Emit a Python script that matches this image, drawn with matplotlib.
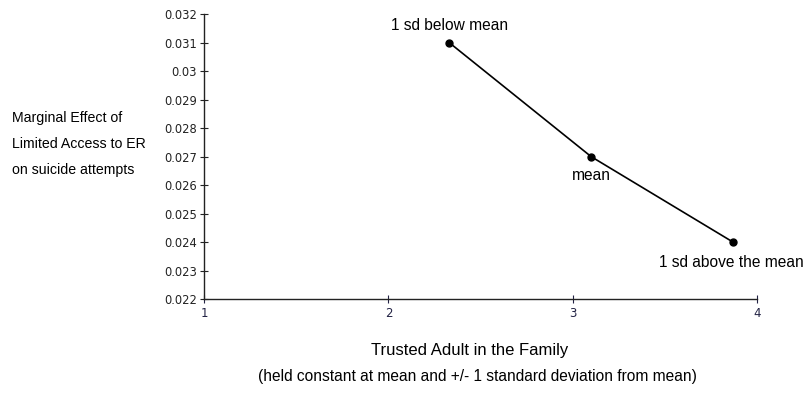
import numpy as np
import matplotlib.pyplot as plt

trusted_adult = [2.33, 3.10, 3.87]
marginal_effect = [0.031, 0.027, 0.024]
point_labels = ['1 sd below mean', 'mean', '1 sd above the mean']
xticks = [1, 2, 3, 4]
yticks = [0.022, 0.023, 0.024, 0.025, 0.026, 0.027, 0.028, 0.029, 0.03, 0.031, 0.032]
ytick_labels = ['0.022', '0.023', '0.024', '0.025', '0.026', '0.027',
                '0.028', '0.029', '0.03', '0.031', '0.032']


def main():
    fig = plt.figure(figsize=(8.07, 3.93), dpi=100)
    ax = fig.add_axes([0.253, 0.239, 0.685, 0.725])

    ax.plot(trusted_adult, marginal_effect, color='black', lw=1.2,
            marker='o', ms=5, zorder=3)

    lab = dict(family='Liberation Sans', fontsize=11.2)
    ax.annotate(point_labels[0], (trusted_adult[0], marginal_effect[0]),
                xytext=(0, 7), textcoords='offset points',
                ha='center', va='bottom', **lab)
    ax.annotate(point_labels[1], (trusted_adult[1], marginal_effect[1]),
                xytext=(0, -8), textcoords='offset points',
                ha='center', va='top', **lab)
    ax.annotate(point_labels[2], (trusted_adult[2], marginal_effect[2]),
                xytext=(-53, -9), textcoords='offset points',
                ha='left', va='top', annotation_clip=False, **lab)

    ax.set_xlim(1, 4)
    ax.set_ylim(0.022, 0.032)
    ax.set_xticks(xticks)
    ax.set_xticklabels([str(t) for t in xticks])
    ax.set_yticks(yticks)
    ax.set_yticklabels(ytick_labels)

    for s in ['top', 'right']:
        ax.spines[s].set_visible(False)
    for s in ['left', 'bottom']:
        ax.spines[s].set_linewidth(1.0)
        ax.spines[s].set_color('#222222')

    ax.tick_params(axis='y', direction='inout', length=6, width=0.8,
                   labelsize=8.3, pad=2, colors='#222222')
    ax.tick_params(axis='x', direction='inout', length=6, width=0.8,
                   labelsize=8.5, pad=3, colors='#222244')

    ylab = dict(family='Liberation Sans', fontsize=10.2)
    fig.text(12 / 807, 1 - 118 / 393, 'Marginal Effect of', ha='left', va='center', **ylab)
    fig.text(12 / 807, 1 - 144 / 393, 'Limited Access to ER', ha='left', va='center', **ylab)
    fig.text(12 / 807, 1 - 170 / 393, 'on suicide attempts', ha='left', va='center', **ylab)

    fig.text(470 / 807, 1 - 350 / 393, 'Trusted Adult in the Family',
             ha='center', va='center', family='Liberation Sans', fontsize=12)
    fig.text(477 / 807, 1 - 377 / 393,
             '(held constant at mean and +/- 1 standard deviation from mean)',
             ha='center', va='center', **lab)

    fig.savefig('out.png', dpi=100)


if __name__ == '__main__':
    main()
